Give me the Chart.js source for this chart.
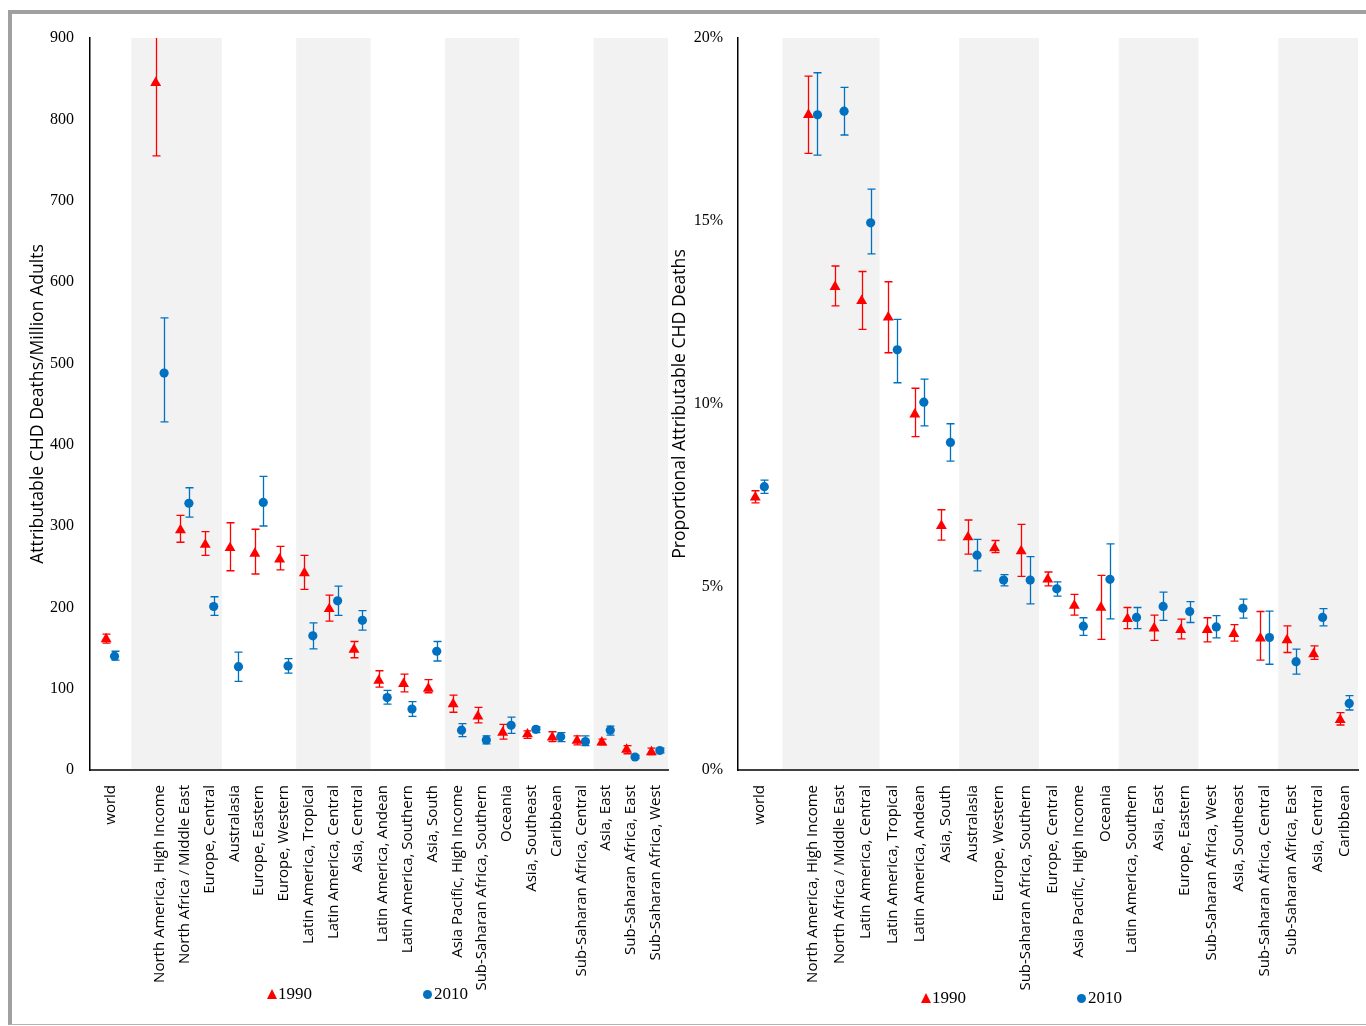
<!DOCTYPE html>
<html>
<head>
<meta charset="utf-8">
<title>Attributable CHD deaths by region, 1990 and 2010</title>
<script src="https://cdn.jsdelivr.net/npm/chart.js@4.4.1/dist/chart.umd.min.js"></script>
<style>
    html, body { margin: 0; padding: 0; width: 1366px; height: 1026px; overflow: hidden; background: #fff; }
    #frame {
        position: absolute; left: 8px; top: 10px; width: 1400px; height: 1010px;
        border-top: 4px solid #a0a0a0; border-left: 4px solid #a0a0a0; border-bottom: 1px solid #b4b4b4;
    }
    canvas { position: absolute; top: 0; }
    #absChart { left: 0; }
    #shareChart { left: 664px; }
    .legend-item {
        position: absolute; display: flex; align-items: center;
        font-family: 'Liberation Serif', serif; font-size: 17px; color: #000;
    }
    .tri { width: 0; height: 0; border-left: 5px solid transparent; border-right: 5px solid transparent; border-bottom: 10px solid #ff0000; margin-right: 1px; }
    .dot { width: 9px; height: 9px; border-radius: 50%; background: #0070c0; margin-right: 2px; }
</style>
</head>
<body>
<div id="frame"></div>
<canvas id="absChart" width="700" height="1026"></canvas>
<canvas id="shareChart" width="730" height="1026"></canvas>

<div class="legend-item" style="left:267px; top:984px;"><span class="tri"></span>1990</div>
<div class="legend-item" style="left:423px; top:984px;"><span class="dot"></span>2010</div>
<div class="legend-item" style="left:921px; top:988px;"><span class="tri"></span>1990</div>
<div class="legend-item" style="left:1077px; top:988px;"><span class="dot"></span>2010</div>

<script>
// ==========================================
// Data
// ==========================================

// Left panel: attributable CHD deaths per million adults
const absRegions = ['world', 'North America, High Income', 'North Africa / Middle East', 'Europe, Central',
    'Australasia', 'Europe, Eastern', 'Europe, Western', 'Latin America, Tropical', 'Latin America, Central',
    'Asia, Central', 'Latin America, Andean', 'Latin America, Southern', 'Asia, South',
    'Asia Pacific, High Income', 'Sub-Saharan Africa, Southern', 'Oceania', 'Asia, Southeast', 'Caribbean',
    'Sub-Saharan Africa, Central', 'Asia, East', 'Sub-Saharan Africa, East', 'Sub-Saharan Africa, West'];
const deaths1990 = [161, 845, 295, 277, 273, 266, 259, 242, 198, 148, 110, 106, 100, 81, 66, 46, 44, 40, 36, 34, 25, 22];
const deaths1990Low = [156, 755, 280, 264, 245, 241, 246, 222, 183, 138, 102, 96, 95, 71, 58, 38, 39, 35, 31, 31, 20, 19];
const deaths1990High = [167, 935, 313, 293, 304, 296, 275, 264, 215, 158, 122, 118, 111, 92, 77, 56, 48, 47, 42, 38, 30, 27];
const deaths2010 = [140, 488, 328, 201, 127, 329, 128, 165, 208, 184, 89, 75, 146, 49, 37, 55, 50, 41, 35, 49, 16, 24];
const deaths2010Low = [135, 428, 311, 190, 109, 300, 119, 149, 190, 172, 81, 66, 134, 41, 32, 45, 46, 35, 30, 43, 14, 21];
const deaths2010High = [146, 556, 347, 213, 145, 361, 137, 181, 226, 196, 98, 84, 158, 57, 42, 65, 53, 46, 42, 54, 18, 27];
const deathTicks = [0, 100, 200, 300, 400, 500, 600, 700, 800, 900];

// Right panel: proportional attributable CHD deaths (%)
const shareRegions = ['world', 'North America, High Income', 'North Africa / Middle East', 'Latin America, Central',
    'Latin America, Tropical', 'Latin America, Andean', 'Asia, South', 'Australasia', 'Europe, Western',
    'Sub-Saharan Africa, Southern', 'Europe, Central', 'Asia Pacific, High Income', 'Oceania',
    'Latin America, Southern', 'Asia, East', 'Europe, Eastern', 'Sub-Saharan Africa, West', 'Asia, Southeast',
    'Sub-Saharan Africa, Central', 'Sub-Saharan Africa, East', 'Asia, Central', 'Caribbean'];
const share1990 = [7.45, 17.9, 13.2, 12.82, 12.37, 9.72, 6.67, 6.36, 6.06, 5.98, 5.21, 4.49, 4.44, 4.13, 3.87, 3.83, 3.83, 3.72, 3.6, 3.55, 3.17, 1.37];
const share1990Low = [7.3, 16.85, 12.68, 12.04, 11.4, 9.11, 6.28, 5.9, 5.94, 5.29, 5.03, 4.23, 3.57, 3.86, 3.54, 3.58, 3.5, 3.52, 3.0, 3.21, 3.02, 1.23];
const share1990High = [7.63, 18.96, 13.77, 13.62, 13.34, 10.43, 7.11, 6.83, 6.27, 6.71, 5.41, 4.8, 5.32, 4.44, 4.23, 4.12, 4.16, 3.97, 4.33, 3.94, 3.39, 1.57];
const share2010 = [7.74, 17.9, 18.0, 14.95, 11.48, 10.05, 8.95, 5.87, 5.19, 5.19, 4.95, 3.93, 5.21, 4.17, 4.47, 4.33, 3.91, 4.42, 3.62, 2.96, 4.17, 1.82];
const share2010Low = [7.56, 16.8, 17.35, 14.1, 10.58, 9.4, 8.44, 5.44, 5.03, 4.54, 4.75, 3.68, 4.13, 3.86, 4.09, 4.03, 3.61, 4.15, 2.89, 2.62, 3.94, 1.64];
const share2010High = [7.92, 19.05, 18.65, 15.87, 12.31, 10.68, 9.46, 6.30, 5.34, 5.83, 5.14, 4.16, 6.18, 4.44, 4.86, 4.6, 4.22, 4.67, 4.34, 3.3, 4.41, 2.03];
const shareTicks = [0, 5, 10, 15, 20];

// Groups of three regions shaded grey (in slot units)
const shadedGroups = [[0.85, 4.5], [7.5, 10.5], [13.5, 16.5], [19.5, 22.5]];

// ==========================================
// Helpers
// ==========================================

// world sits alone, then one empty slot before the regions
function slotOf(i) { return i === 0 ? 0 : i + 1; }

function slotLabels(regions) {
    const out = [];
    regions.forEach((r, i) => { out[slotOf(i)] = r; });
    out[1] = '';
    return out;
}

function buildPoints(values, low, high, shift) {
    return values.map((v, i) => ({ x: slotOf(i) + shift, y: v, low: low[i], high: high[i] }));
}

const bandPlugin = {
    id: 'bands',
    beforeDraw(chart) {
        const { ctx, chartArea, scales: { x } } = chart;
        ctx.save();
        ctx.fillStyle = '#f2f2f2';
        shadedGroups.forEach(([a, b]) => {
            const x0 = x.getPixelForValue(a);
            const x1 = x.getPixelForValue(b);
            ctx.fillRect(x0, chartArea.top, x1 - x0, chartArea.bottom - chartArea.top);
        });
        ctx.restore();
    }
};

const errorBarPlugin = {
    id: 'errorBars',
    beforeDatasetsDraw(chart) {
        const { ctx, chartArea, scales: { x, y } } = chart;
        ctx.save();
        ctx.beginPath();
        ctx.rect(chartArea.left, chartArea.top, chartArea.right - chartArea.left, chartArea.bottom - chartArea.top);
        ctx.clip();
        chart.data.datasets.forEach(ds => {
            ctx.strokeStyle = ds.borderColor;
            ctx.lineWidth = 1.3;
            ds.data.forEach(p => {
                const px = Math.round(x.getPixelForValue(p.x)) + 0.5;
                const yl = y.getPixelForValue(p.low);
                const yh = y.getPixelForValue(p.high);
                ctx.beginPath();
                ctx.moveTo(px, yh); ctx.lineTo(px, yl);
                ctx.moveTo(px - 4, yh); ctx.lineTo(px + 4, yh);
                ctx.moveTo(px - 4, yl); ctx.lineTo(px + 4, yl);
                ctx.stroke();
            });
        });
        ctx.restore();
    }
};

function makeChart(canvasId, opts) {
    const labels = slotLabels(opts.regions);
    const ctx = document.getElementById(canvasId).getContext('2d');
    return new Chart(ctx, {
        type: 'scatter',
        data: {
            datasets: [{
                label: '1990',
                data: buildPoints(opts.v1990, opts.lo1990, opts.hi1990, -0.17),
                pointStyle: 'triangle',
                pointRadius: 6.3,
                backgroundColor: '#ff0000',
                borderColor: '#ff0000',
                borderWidth: 0
            }, {
                label: '2010',
                data: buildPoints(opts.v2010, opts.lo2010, opts.hi2010, 0.17),
                pointStyle: 'circle',
                pointRadius: 4.6,
                backgroundColor: '#0070c0',
                borderColor: '#0070c0',
                borderWidth: 0
            }]
        },
        options: {
            responsive: false,
            animation: false,
            events: [],
            layout: { padding: { top: 38, right: opts.padRight, bottom: 0, left: 0 } },
            plugins: { legend: { display: false }, tooltip: { enabled: false } },
            scales: {
                x: {
                    type: 'linear',
                    min: -0.82,
                    max: 22.5,
                    afterBuildTicks: s => { s.ticks = labels.map((_, i) => ({ value: i })); },
                    afterFit: s => { s.height = 256; },
                    grid: { display: false, drawTicks: false },
                    border: { color: '#404040', width: 2 },
                    ticks: {
                        autoSkip: false,
                        minRotation: 90,
                        maxRotation: 90,
                        padding: 15,
                        color: '#000',
                        font: { family: "'Open Sans', sans-serif", size: 15 },
                        callback: v => labels[v] || ''
                    }
                },
                y: {
                    min: opts.ticks[0],
                    max: opts.ticks[opts.ticks.length - 1],
                    afterBuildTicks: s => { s.ticks = opts.ticks.map(v => ({ value: v })); },
                    afterFit: s => { s.width = opts.axisWidth; },
                    grid: { display: false, drawTicks: false },
                    border: { color: '#000', width: 1.5 },
                    ticks: {
                        padding: opts.tickPad,
                        color: '#000',
                        font: { family: "'Liberation Serif', serif", size: 16 },
                        callback: opts.tickFormat
                    },
                    title: {
                        display: true,
                        text: opts.title,
                        color: '#000',
                        font: { family: "'Open Sans', sans-serif", size: 17.6 },
                        padding: { top: opts.titlePad, bottom: 0 }
                    }
                }
            }
        },
        plugins: [bandPlugin, errorBarPlugin]
    });
}

document.addEventListener('DOMContentLoaded', () => {
    makeChart('absChart', {
        regions: absRegions,
        v1990: deaths1990, lo1990: deaths1990Low, hi1990: deaths1990High,
        v2010: deaths2010, lo2010: deaths2010Low, hi2010: deaths2010High,
        ticks: deathTicks,
        tickFormat: v => String(v),
        title: 'Attributable CHD Deaths/Million Adults',
        axisWidth: 90, tickPad: 16, titlePad: 27.5, padRight: 32
    });

    makeChart('shareChart', {
        regions: shareRegions,
        v1990: share1990, lo1990: share1990Low, hi1990: share1990High,
        v2010: share2010, lo2010: share2010Low, hi2010: share2010High,
        ticks: shareTicks,
        tickFormat: v => v + '%',
        title: 'Proportional Attributable CHD Deaths',
        axisWidth: 74, tickPad: 15, titlePad: 5.5, padRight: 36
    });
});
</script>
</body>
</html>
